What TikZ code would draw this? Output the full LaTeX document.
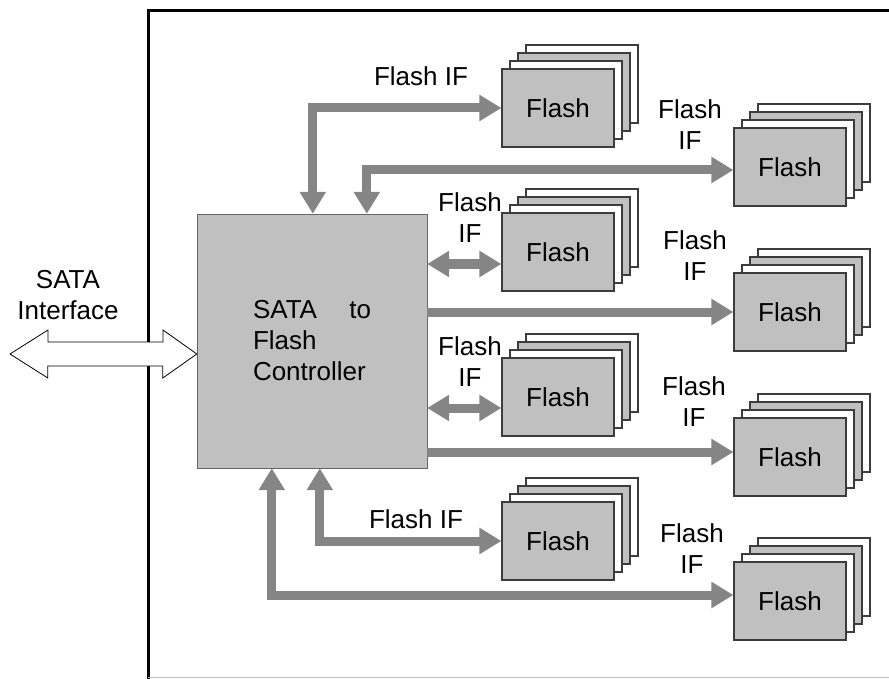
\documentclass[tikz,border=0pt]{standalone}
\usepackage{fontspec}
\setmainfont{Liberation Sans}
\usetikzlibrary{shadows, positioning, arrows.meta}

\definecolor{flashgray}{HTML}{C0C0C0}
\definecolor{busgray}{HTML}{858585}
\definecolor{edgegray}{HTML}{3C3C3C}

\begin{document}
\begin{tikzpicture}[x=1pt, y=-1pt, font=\fontsize{26}{31}\selectfont,
	>={Triangle[length=22pt,width=25pt]},
	flash/.style={draw=edgegray, fill=flashgray, line width=1.2pt, minimum width=112pt, minimum height=78pt,
		copy shadow={shadow xshift=24pt, shadow yshift=24pt, fill=white, draw=edgegray, line width=1.2pt},
		copy shadow={shadow xshift=16pt, shadow yshift=16pt, fill=flashgray, draw=edgegray, line width=1.2pt},
		copy shadow={shadow xshift=8pt, shadow yshift=8pt, fill=white, draw=edgegray, line width=1.2pt}},
	controller/.style={draw=gray!80!black, fill=flashgray, minimum width=230pt, minimum height=254pt, align=left},
	bus/.style={draw=busgray, line width=9pt},
	iflabel/.style={align=center, inner sep=0pt},]

\useasboundingbox (0,0) rectangle (889,679);

% board outline
\draw[line width=3pt] (148,685) -- (148,11) -- (895,11);
\draw[gray!50, line width=1pt] (148,677.5) -- (895,677.5);

\node[controller] (ctrl) at (312,341) {\makebox[118pt][l]{SATA\hfill to}\\Flash\\Controller};

% flash packages
\node[flash] (fl1) at (558,108) {Flash};
\node[flash] (fl2) at (558,252) {Flash};
\node[flash] (fl3) at (558,397) {Flash};
\node[flash] (fl4) at (558,541) {Flash};
\node[flash] (fr1) at (790,167) {Flash};
\node[flash] (fr2) at (790,312) {Flash};
\node[flash] (fr3) at (790,457) {Flash};
\node[flash] (fr4) at (790,601) {Flash};

% host side
\node[iflabel] (satalbl) at (68,295) {SATA\\Interface};
\coordinate (sataend) at (10,354);
\coordinate (satatip) at ([yshift=-13pt]ctrl.west);
\draw[fill=white, line width=0.8pt] (sataend) -- ++(38,-24) -- ++(0,12) -- ++(115,0) -- ++(0,-12) -- (satatip)
	-- ++(-34,24) -- ++(0,-12) -- ++(-115,0) -- ++(0,12) -- cycle;

% flash interfaces
\draw[bus, <->] ([xshift=116pt]ctrl.north west) |- (fl1.west);
\draw[bus, <->] ([xshift=170pt]ctrl.north west) |- ([yshift=-3pt]fr1.west);
\draw[bus, <->] ([yshift=-12pt]ctrl.east |- fl2.west) -- ([yshift=-12pt]fl2.west);
\draw[bus, ->] (ctrl.east |- fr2.west) -- (fr2.west);
\draw[bus, <->] ([yshift=-11pt]ctrl.east |- fl3.west) -- ([yshift=-11pt]fl3.west);
\draw[bus, ->] ([yshift=5pt]ctrl.east |- fr3.west) -- ([yshift=5pt]fr3.west);
\draw[bus, <->] ([xshift=123pt]ctrl.south west) |- (fl4.west);
\draw[bus, <->] ([xshift=75pt]ctrl.south west) |- ([yshift=6pt]fr4.west);

\node[iflabel] (if1) at (421,76) {Flash IF};
\node[iflabel] (if2) at (690,125) {Flash\\IF};
\node[iflabel] (if3) at (470,218) {Flash\\IF};
\node[iflabel] (if4) at (695,256) {Flash\\IF};
\node[iflabel] (if5) at (470,362) {Flash\\IF};
\node[iflabel] (if6) at (694,402) {Flash\\IF};
\node[iflabel] (if7) at (416,519) {Flash IF};
\node[iflabel] (if8) at (692,549) {Flash\\IF};
\end{tikzpicture}
\end{document}
